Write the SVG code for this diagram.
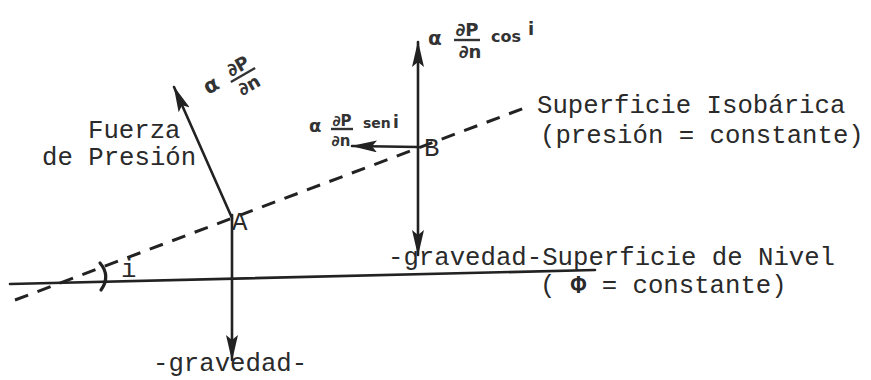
<svg xmlns="http://www.w3.org/2000/svg" width="871" height="380" viewBox="0 0 871 380">
<defs>
<style>
.tw{font-family:"Liberation Mono","DejaVu Sans Mono",monospace;font-size:25.7px;fill:#2a2a2a}
.hw{font-family:"DejaVu Sans","Noto Sans",sans-serif;font-weight:bold;fill:#333}
.ln{stroke:#222;stroke-width:2.6;fill:none;stroke-linecap:round}
.dash{stroke:#222;stroke-width:3;fill:none;stroke-dasharray:14 10}
.bar{stroke:#333;stroke-width:2.4}
</style>
<marker id="ah" viewBox="0 0 26 12" refX="25" refY="6" markerWidth="26" markerHeight="12" markerUnits="userSpaceOnUse" orient="auto">
<path d="M0,0 L26,6 L0,12 L5,6 z" fill="#222"/>
</marker>
</defs>
<rect width="871" height="380" fill="#fff"/>

<g id="connectors">
<line class="ln" x1="10" y1="284" x2="595" y2="270"/>
<line class="dash" x1="15" y1="300" x2="527" y2="107"/>
<line class="ln" x1="232" y1="218" x2="174" y2="87" marker-end="url(#ah)"/>
<line class="ln" x1="232" y1="215" x2="232" y2="360" marker-end="url(#ah)"/>
<line class="ln" x1="418" y1="147" x2="418" y2="42" marker-end="url(#ah)"/>
<line class="ln" x1="418" y1="147" x2="418" y2="255" marker-end="url(#ah)"/>
<line class="ln" x1="418" y1="147" x2="352" y2="146" marker-end="url(#ah)"/>
<path class="ln" style="stroke-width:3.2" d="M100 263 Q111 276 101 290"/>
</g>

<g id="node-A">
<text class="tw" x="232" y="230" font-size="22">A</text>
</g>
<g id="node-B">
<text class="tw" x="424" y="156">B</text>
</g>
<g id="label-angle">
<text class="tw" x="121" y="277">i</text>
</g>
<g id="label-fuerza">
<text class="tw" x="88" y="138">Fuerza</text>
<text class="tw" x="42" y="165">de Presión</text>
</g>
<g id="label-gravedad-A">
<text class="tw" x="153" y="371">-gravedad-</text>
</g>
<g id="label-nivel">
<text class="tw" x="388" y="265">-gravedad-Superficie de Nivel</text>
<text class="tw" x="540" y="293">( <tspan font-weight="bold">Φ</tspan> = constante)</text>
</g>
<g id="label-isobarica">
<text class="tw" x="537" y="113">Superficie Isobárica</text>
<text class="tw" x="540" y="143">(presión = constante)</text>
</g>

<g id="label-dpdn" transform="translate(243,75) rotate(-30)">
<text class="hw" x="-33" y="0" font-size="21" text-anchor="middle">α</text>
<text class="hw" x="0" y="-4" font-size="18" text-anchor="middle">∂P</text>
<line class="bar" x1="-14" y1="0" x2="14" y2="0"/>
<text class="hw" x="0" y="18" font-size="18" text-anchor="middle">∂n</text>
</g>

<g id="label-cos">
<text class="hw" x="428" y="45" font-size="20">α</text>
<text class="hw" x="467" y="36" font-size="18" text-anchor="middle">∂P</text>
<line class="bar" x1="454" y1="40" x2="480" y2="40"/>
<text class="hw" x="470" y="58" font-size="18" text-anchor="middle">∂n</text>
<text class="hw" x="491" y="42" font-size="16">cos</text>
<text class="hw" x="528" y="35" font-size="18">i</text>
</g>

<g id="label-sen">
<text class="hw" x="309" y="132" font-size="18">α</text>
<text class="hw" x="342" y="126" font-size="15" text-anchor="middle">∂P</text>
<line class="bar" x1="331" y1="129" x2="353" y2="129"/>
<text class="hw" x="341" y="146" font-size="15" text-anchor="middle">∂n</text>
<text class="hw" x="363" y="128" font-size="14">sen</text>
<text class="hw" x="393" y="128" font-size="17">i</text>
</g>
</svg>
